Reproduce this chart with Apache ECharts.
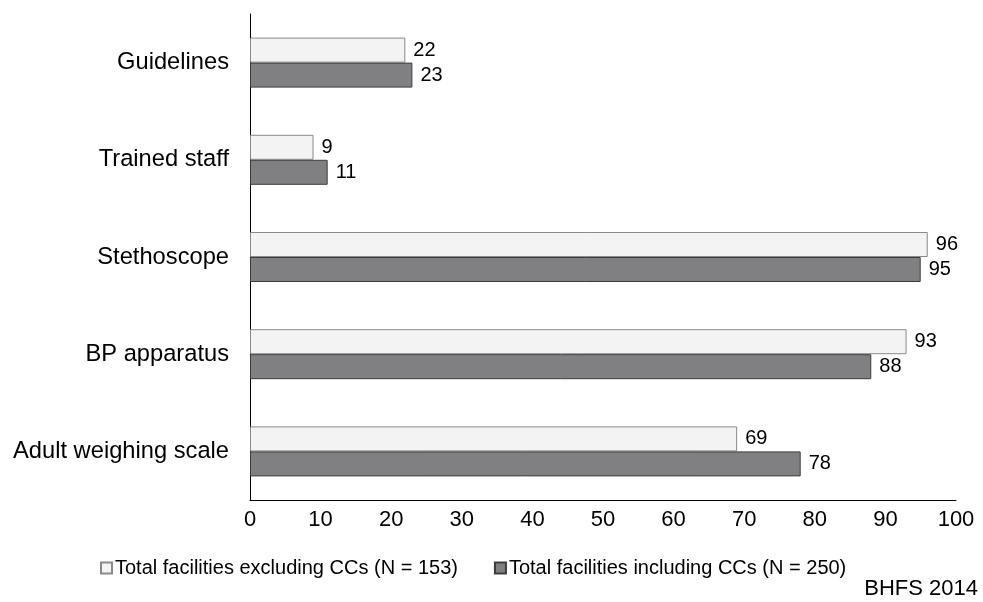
<!DOCTYPE html>
<html>
<head>
<meta charset="utf-8">
<script src="https://cdn.jsdelivr.net/npm/echarts@6/dist/echarts.min.js"></script>
<style>html,body{margin:0;padding:0;background:#fff}#c{width:983px;height:602px}</style>
</head>
<body>
<div id="c"></div>
<script>
const categories = ['Guidelines', 'Trained staff', 'Stethoscope', 'BP apparatus', 'Adult weighing scale'];
const seriesNames = ['Total facilities excluding CCs (N = 153)', 'Total facilities including CCs (N = 250)'];
const excludingCCs = [22, 9, 96, 93, 69];
const includingCCs = [23, 11, 95, 88, 78];
const xTicks = [0, 10, 20, 30, 40, 50, 60, 70, 80, 90, 100];
const sourceNote = 'BHFS 2014';

const font = '"Liberation Sans", Arial, sans-serif';
const chart = echarts.init(document.getElementById('c'), null, {renderer: 'canvas'});
chart.setOption({
  animation: false,
  textStyle: {fontFamily: font, color: '#000'},
  grid: {left: 250, right: 27, top: 14, bottom: 102, containLabel: false},
  legend: {
    data: seriesNames,
    top: 553,
    left: 95,
    icon: 'rect',
    itemWidth: 11,
    itemHeight: 11,
    itemGap: 36,
    textStyle: {fontFamily: font, fontSize: 20, color: '#000', padding: [0, 0, 0, -2]}
  },
  graphic: [{
    type: 'text',
    right: 5,
    top: 578,
    style: {text: sourceNote, font: '22px ' + font, fill: '#000'}
  }],
  xAxis: {
    type: 'value',
    min: xTicks[0],
    max: xTicks[xTicks.length - 1],
    interval: 10,
    axisLine: {show: true, lineStyle: {color: '#000', width: 1}},
    axisTick: {show: false},
    splitLine: {show: false},
    axisLabel: {fontSize: 22, color: '#000', margin: 9, fontFamily: font}
  },
  yAxis: {
    type: 'category',
    data: categories,
    inverse: true,
    axisLine: {show: true, lineStyle: {color: '#000', width: 1}},
    axisTick: {show: false},
    axisLabel: {fontSize: 23.7, color: '#000', margin: 21, fontFamily: font}
  },
  series: [
    {
      name: seriesNames[0],
      type: 'bar',
      data: excludingCCs,
      barWidth: 25,
      barGap: '0%',
      itemStyle: {color: '#f2f3f2', borderColor: '#8a8a8a', borderWidth: 1},
      label: {show: true, position: 'right', distance: 8, fontSize: 20, color: '#000', fontFamily: font}
    },
    {
      name: seriesNames[1],
      type: 'bar',
      data: includingCCs,
      barWidth: 25,
      barGap: '0%',
      itemStyle: {color: '#808083', borderColor: '#3c3c3c', borderWidth: 1},
      label: {show: true, position: 'right', distance: 8, fontSize: 20, color: '#000', fontFamily: font}
    }
  ]
});
</script>
</body>
</html>
